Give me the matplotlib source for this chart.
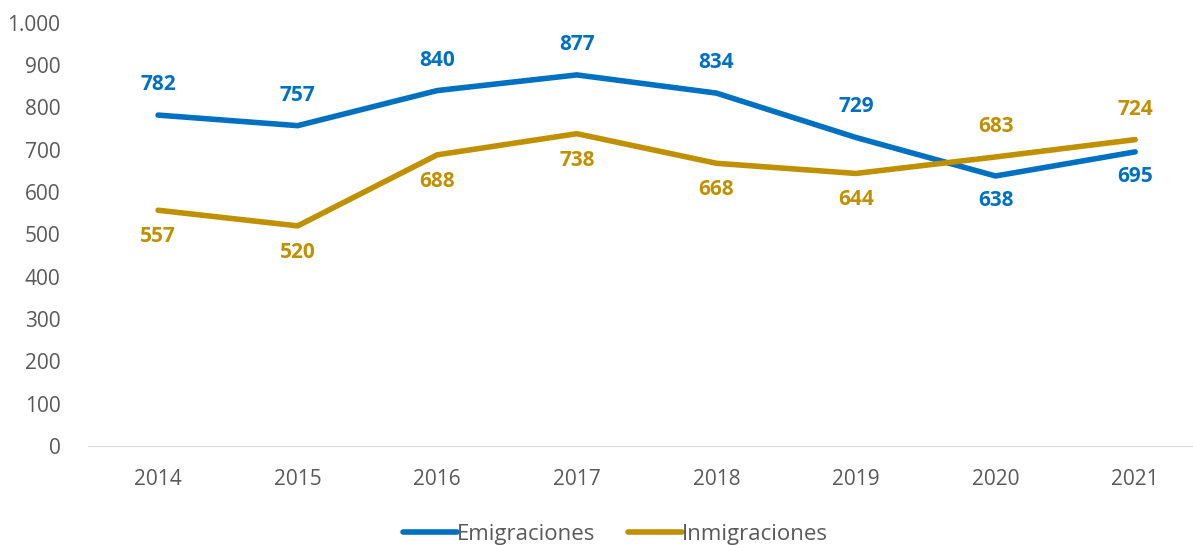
import matplotlib.pyplot as plt
import matplotlib.ticker as mticker

plt.rcParams['font.family'] = ['Open Sans', 'DejaVu Sans']

years = ['2014', '2015', '2016', '2017', '2018', '2019', '2020', '2021']
emigraciones = [782, 757, 840, 877, 834, 729, 638, 695]
inmigraciones = [557, 520, 688, 738, 668, 644, 683, 724]

# label side per point: 1 = above, -1 = below
emi_side = [1, 1, 1, 1, 1, 1, -1, -1]
inm_side = [-1, -1, -1, -1, -1, -1, 1, 1]

blue = '#0070C0'
gold = '#BF9000'

fig = plt.figure(figsize=(11.93, 5.45), dpi=100)
ax = fig.add_axes([0.074, 0.182, 0.936, 0.776])

x = range(len(years))
ax.plot(x, emigraciones, color=blue, lw=4, solid_capstyle='round', label='Emigraciones')
ax.plot(x, inmigraciones, color=gold, lw=4, solid_capstyle='round', label='Inmigraciones')

for i in x:
    off = 22 if emi_side[i] > 0 else -18
    ax.annotate(str(emigraciones[i]), (i, emigraciones[i]), xytext=(0, off),
                textcoords='offset points', ha='center', va='center',
                color=blue, fontsize=15, fontweight='bold')
    off = 22 if inm_side[i] > 0 else -19
    ax.annotate(str(inmigraciones[i]), (i, inmigraciones[i]), xytext=(0, off),
                textcoords='offset points', ha='center', va='center',
                color=gold, fontsize=15, fontweight='bold')

ax.set_xlim(-0.5, 7.5)
ax.set_ylim(0, 1000)
ax.set_xticks(list(x))
ax.set_xticklabels(years)
ax.set_yticks(range(0, 1001, 100))
ax.yaxis.set_major_formatter(mticker.FuncFormatter(lambda v, p: f'{int(v):,}'.replace(',', '.')))
ax.tick_params(axis='both', length=0, labelsize=15, colors='#595959')
ax.tick_params(axis='x', pad=17)
ax.tick_params(axis='y', pad=20)

for s in ['top', 'right', 'left']:
    ax.spines[s].set_visible(False)
ax.spines['bottom'].set_color('#d9d9d9')

leg = fig.legend(loc='lower center', bbox_to_anchor=(0.516, -0.036), ncol=2, frameon=False,
                 fontsize=16, handlelength=2.4, handletextpad=0.0, columnspacing=1.5)
for t in leg.get_texts():
    t.set_color('#595959')

fig.savefig('out.png', dpi=100)
